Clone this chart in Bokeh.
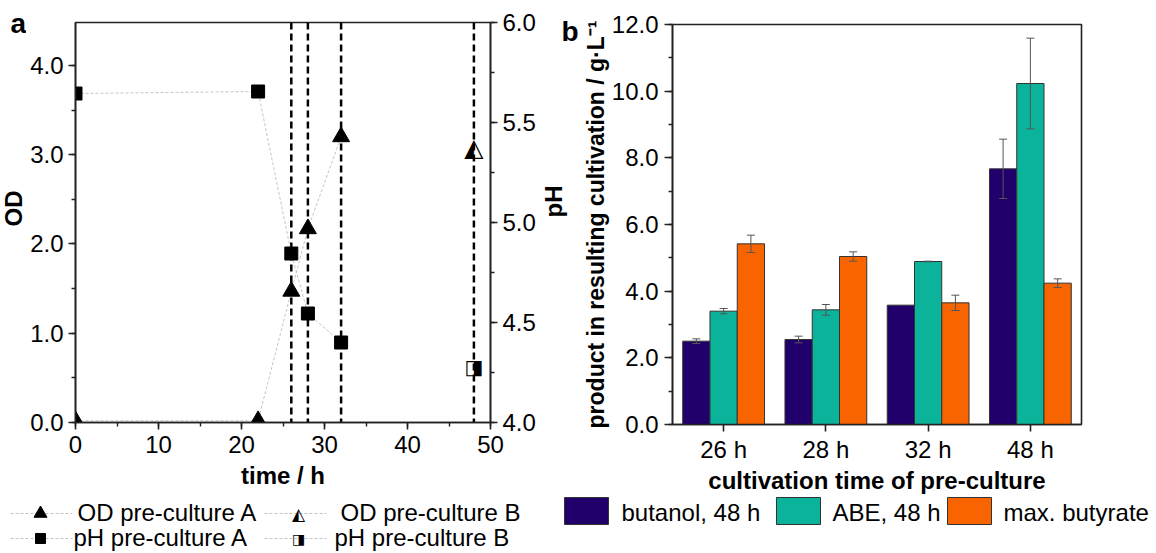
import math
from bokeh.plotting import figure
from bokeh.layouts import column, row
from bokeh.models import (Range1d, LinearAxis, SingleIntervalTicker, NumeralTickFormatter,
                          Span, ColumnDataSource, FactorRange, Whisker, TeeHead)
from bokeh.transform import dodge
from bokeh.core.properties import value
from bokeh.embed import file_html
from bokeh.resources import INLINE

# ---------------- data: panel a ----------------
time_a = [0, 22, 26, 28, 32]
od_a = [0.02, 0.02, 1.47, 2.17, 3.20]
ph_a = [5.645, 5.655, 4.845, 4.545, 4.40]
time_b = [48]
od_b = [3.08]
ph_b = [4.28]
sample_times = [26, 28, 32, 48]
legend_a = ["OD pre-culture A", "OD pre-culture B", "pH pre-culture A", "pH pre-culture B"]

# ---------------- data: panel b ----------------
cats = ["26 h", "28 h", "32 h", "48 h"]
series = ["butanol, 48 h", "ABE, 48 h", "max. butyrate"]
butanol = [2.50, 2.55, 3.58, 7.67]
butanol_err = [0.07, 0.10, None, 0.89]
abe = [3.40, 3.44, 4.89, 10.23]
abe_err = [0.08, 0.16, 0.01, 1.36]
butyrate = [5.42, 5.04, 3.65, 4.24]
butyrate_err = [0.26, 0.14, 0.23, 0.13]
colors = ["#21006b", "#0bb39b", "#f76400"]

FONT = "Liberation Sans"
AX = "#222222"
H = 496          # height of the top row
LH = 553 - H     # height of the legend strip


def style_axis(ax, tick_out=7, label_size="24px"):
    ax.axis_line_color = AX
    ax.axis_line_width = 1.6
    ax.major_tick_line_color = AX
    ax.major_tick_line_width = 1.6
    ax.minor_tick_line_color = AX
    ax.minor_tick_line_width = 1.4
    ax.major_tick_out = tick_out
    ax.major_tick_in = 0
    ax.minor_tick_out = 4
    ax.minor_tick_in = 0
    ax.major_label_text_font = FONT
    ax.major_label_text_font_size = "24px"
    ax.major_label_text_color = "black"
    ax.axis_label_text_font = FONT
    ax.axis_label_text_font_size = label_size
    ax.axis_label_text_font_style = "bold"
    ax.axis_label_text_color = "black"


def strip(width, height):
    s = figure(width=width, height=height, x_range=Range1d(0, width), y_range=Range1d(height, 0),
               output_backend="svg", toolbar_location=None, x_axis_location=None,
               y_axis_location=None, min_border=0)
    s.xgrid.visible = False
    s.ygrid.visible = False
    s.outline_line_color = None
    return s


# ---------------- left strip: panel letter and OD title ----------------
sl = strip(26, H)
sl.text([10], [7], text=["a"], text_font=value(FONT), text_font_size="28px",
        text_font_style="bold", text_baseline="top")
sl.text([13], [208], text=["OD"], angle=math.pi / 2, text_font=value(FONT), text_font_size="24px",
        text_font_style="bold", text_align="center", text_baseline="middle")

# ---------------- panel a ----------------
pa = figure(width=514, height=H, x_range=Range1d(0, 50), y_range=Range1d(0, 4.48),
            output_backend="svg", toolbar_location=None,
            min_border_left=49, min_border_right=50, min_border_top=22, min_border_bottom=H - 422)
pa.extra_y_ranges = {"ph": Range1d(4.0, 6.0)}
pa.xgrid.visible = False
pa.ygrid.visible = False
pa.outline_line_color = AX
pa.outline_line_width = 1.6

pa.xaxis.ticker = SingleIntervalTicker(interval=10, num_minor_ticks=2)
pa.yaxis.ticker = SingleIntervalTicker(interval=1, num_minor_ticks=2)
pa.yaxis.formatter = NumeralTickFormatter(format="0.0")
pa.xaxis.axis_label = "time / h"
style_axis(pa.xaxis[0])
style_axis(pa.yaxis[0])
pa.xaxis.major_label_standoff = 6
pa.xaxis.axis_label_standoff = 6
pa.yaxis.major_label_standoff = 5

ph_axis = LinearAxis(y_range_name="ph", ticker=SingleIntervalTicker(interval=0.5, num_minor_ticks=2),
                     formatter=NumeralTickFormatter(format="0.0"))
style_axis(ph_axis)
ph_axis.major_label_standoff = 5
pa.add_layout(ph_axis, "right")

for t in sample_times:
    pa.add_layout(Span(location=t, dimension="height", line_color="black",
                       line_dash="7 4", line_width=2.5, level="underlay"))

pa.line(time_a, od_a, line_color="#c4c4c4", line_dash="3 2", line_width=1)
pa.line(time_a, ph_a, y_range_name="ph", line_color="#c4c4c4", line_dash="3 2", line_width=1)
pa.scatter(time_a, od_a, marker="triangle", size=17, fill_color="black", line_color="black")
pa.scatter(time_a, ph_a, y_range_name="ph", marker="square", size=13,
           fill_color="black", line_color="black")
# half-filled markers for pre-culture B
pa.text(time_b, od_b, text=["\u25ed"], text_font=value("DejaVu Sans"), text_font_size="25px",
        text_align="center", text_baseline="middle", text_color="black")
pa.text(time_b, ph_b, y_range_name="ph", text=["\u25e8"], text_font=value("DejaVu Sans"),
        text_font_size="20px", text_align="center", text_baseline="middle", text_color="black")

# ---------------- middle strip: pH title and panel letter b ----------------
sm = strip(39, H)
sm.text([13], [201], text=["pH"], angle=math.pi / 2, text_font=value(FONT), text_font_size="24px",
        text_font_style="bold", text_align="center", text_baseline="middle")
sm.text([21], [15], text=["b"], text_font=value(FONT), text_font_size="28px",
        text_font_style="bold", text_baseline="top")

# ---------------- panel b ----------------
pb = figure(width=577, height=H, x_range=FactorRange(*cats, range_padding=0), y_range=Range1d(0, 12),
            output_backend="svg", toolbar_location=None,
            min_border_left=93, min_border_right=75, min_border_top=24, min_border_bottom=H - 424)
pb.xgrid.visible = False
pb.ygrid.visible = False
pb.outline_line_color = AX
pb.outline_line_width = 1.6
pb.yaxis.ticker = SingleIntervalTicker(interval=2, num_minor_ticks=2)
pb.yaxis.formatter = NumeralTickFormatter(format="0.0")
pb.yaxis.axis_label = "product in resulting cultivation / g\u00b7L\u207b\u00b9"
pb.xaxis.axis_label = "cultivation time of pre-culture"
style_axis(pb.xaxis[0])
style_axis(pb.yaxis[0], tick_out=8, label_size="23px")
pb.xaxis.major_label_standoff = 4
pb.xaxis.axis_label_standoff = 1
pb.yaxis.major_label_standoff = 6
pb.yaxis.axis_label_standoff = 0

src = ColumnDataSource(dict(cat=cats, butanol=butanol, abe=abe, butyrate=butyrate))
W = 0.8 / 3
offsets = [-W, 0.0, W]
keys = ["butanol", "abe", "butyrate"]
vals = [butanol, abe, butyrate]
errs = [butanol_err, abe_err, butyrate_err]
for k, off, c in zip(keys, offsets, colors):
    pb.vbar(x=dodge("cat", off, range=pb.x_range), top=k, width=W, source=src,
            fill_color=c, line_color="#333333", line_width=1)

for v, e, off in zip(vals, errs, offsets):
    cc, up, lo = [], [], []
    for cat, vv, ee in zip(cats, v, e):
        if ee is None:
            continue
        cc.append(cat)
        up.append(vv + ee)
        lo.append(vv - ee)
    wsrc = ColumnDataSource(dict(cat=cc, upper=up, lower=lo))
    pb.add_layout(Whisker(source=wsrc, base=dodge("cat", off, range=pb.x_range), upper="upper",
                          lower="lower", line_color="#555555", line_width=1, level="overlay",
                          upper_head=TeeHead(size=8, line_color="#555555", line_width=1),
                          lower_head=TeeHead(size=8, line_color="#555555", line_width=1)))

# ---------------- legend strip ----------------
lg = strip(1156, LH)
row_line_y = [17, 42]
row_text_y = [2.5, 27.5]
col_line_x = [10, 264]
for cx in col_line_x:
    for ry in row_line_y:
        lg.segment(x0=[cx], y0=[ry], x1=[cx + 62], y1=[ry], line_color="#c4c4c4",
                   line_dash="3 2", line_width=1)
lg.scatter([col_line_x[0] + 30], [row_line_y[0]], marker="triangle", size=13,
           fill_color="black", line_color="black")
lg.scatter([col_line_x[0] + 30], [row_line_y[1]], marker="square", size=10,
           fill_color="black", line_color="black")
lg.text([col_line_x[1] + 34], [row_line_y[0]], text=["\u25ed"], text_font=value("DejaVu Sans"),
        text_font_size="17px", text_align="center", text_baseline="middle")
lg.text([col_line_x[1] + 34], [row_line_y[1]], text=["\u25e8"], text_font=value("DejaVu Sans"),
        text_font_size="14px", text_align="center", text_baseline="middle")
lg.text([77, 340, 73, 334], [row_text_y[0], row_text_y[0], row_text_y[1], row_text_y[1]],
        text=legend_a, text_font=value(FONT), text_font_size="24px",
        text_baseline="top", text_color="black")

sq_x = [564, 776, 947]
txt_x = [621, 832, 1003]
lg.quad(left=sq_x, right=[x + 44 for x in sq_x], top=[1] * 3, bottom=[28] * 3,
        fill_color=colors, line_color="#333333", line_width=1)
lg.text(txt_x, [2.5] * 3, text=series, text_font=value(FONT), text_font_size="24px",
        text_baseline="top", text_color="black")

# each figure wrapped on its own so that the row does not align their frames
top_row = row(column(sl, spacing=0), column(pa, spacing=0), column(sm, spacing=0),
              column(pb, spacing=0), spacing=0)
layout = column(top_row, lg, spacing=0)
open("out.html", "w").write(file_html(layout, INLINE))
